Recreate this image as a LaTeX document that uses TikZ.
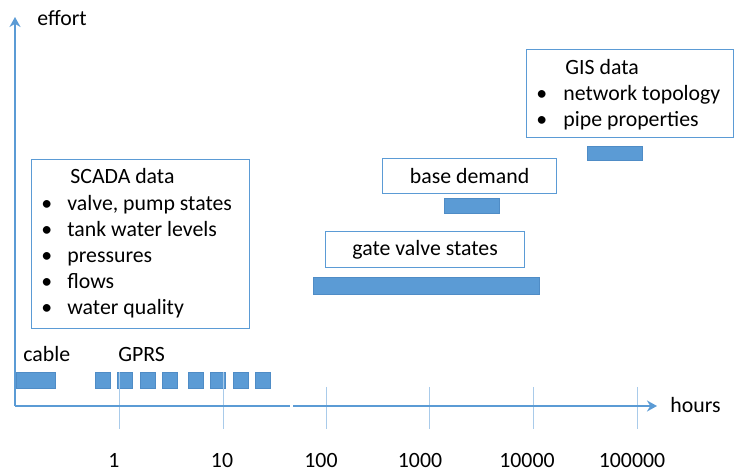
\documentclass[tikz,border=0pt]{standalone}
\usepackage{fontspec}
\setmainfont{Carlito}
\usetikzlibrary{positioning,arrows.meta}

\definecolor{chartblue}{HTML}{5B9BD5}
\definecolor{bardark}{HTML}{4F8CC6}
\definecolor{tickblue}{HTML}{A9CBEA}

\begin{document}
\begin{tikzpicture}[x=0.5pt,y=-0.5pt,
  font=\fontsize{10.9}{13}\selectfont,
  >={Stealth[length=5pt,width=5.5pt]},
  axis/.style={draw=chartblue, line width=1.1pt},
  tickline/.style={draw=tickblue, line width=0.5pt},
  bar/.style={draw=bardark, fill=chartblue, line width=0.3pt},
  infobox/.style={draw=chartblue, line width=0.6pt, fill=white, inner sep=0pt, anchor=north west},
  lbl/.style={inner sep=0pt, anchor=base west},
  num/.style={inner sep=0pt, anchor=base}]
\useasboundingbox (0,0) rectangle (734,470);

\coordinate (O) at (15,406);
\coordinate (ytop) at (15,17);
\coordinate (xbreak) at (290,406);
\coordinate (xresume) at (293,406);
\coordinate (xend) at (657,406);

\node[infobox, minimum width=109pt, minimum height=84.5pt] (scada) at (31,159) {};
\node[infobox, minimum width=103.5pt, minimum height=44pt] (gis) at (526,49) {};
\node[infobox, minimum width=87pt, minimum height=17.5pt] (demand) at (382,158) {base demand};
\node[infobox, minimum width=99.5pt, minimum height=18pt] (gate) at (325,231) {gate valve states};

\node[lbl] (scadatitle) at (70,184) {SCADA data};
\foreach \t [count=\i] in {{valve, pump states},{tank water levels},{pressures},{flows},{water quality}}
{
\node[lbl] (sb\i) at (41,184+26.2*\i) {\textbullet};
\node[lbl] (si\i) at (67,184+26.2*\i) {\t};
}

\node[lbl] (gistitle) at (565,75) {GIS data};
\foreach \t [count=\i] in {{network topology},{pipe properties}}
{
\node[lbl] (gb\i) at (536,75+26*\i) {\textbullet};
\node[lbl] (gi\i) at (563,75+26*\i) {\t};
}

\draw[bar] (16,372) rectangle (55,388);
\foreach \x in {95,117,140,162,188,210,233,255}
  \draw[bar] (\x,372) rectangle +(15,16);
\draw[bar] (313,277) rectangle (539,294);
\draw[bar] (444,198) rectangle (499,213);
\draw[bar] (587,146) rectangle (642,160);

\foreach \x/\top in {119/372,223/372,326/387,429/387,533/387,637/387}
  \draw[tickline] (\x,\top) -- (\x,429);

\draw[axis,->] (O) -- (ytop);
\draw[axis] (O) -- (xbreak);
\draw[axis,->] (xresume) -- (xend);

\node[lbl] (effort) at (37,26) {effort};
\node[lbl] (hours) at (670,413) {hours};
\node[lbl] (cable) at (23,362) {cable};
\node[lbl] (gprs) at (118,362) {GPRS};

\foreach \x/\t in {114/1,222/10,321/100,420/1000,527/10000,632/100000}
  \node[num] (n\t) at (\x,467) {\t};
\end{tikzpicture}
\end{document}
